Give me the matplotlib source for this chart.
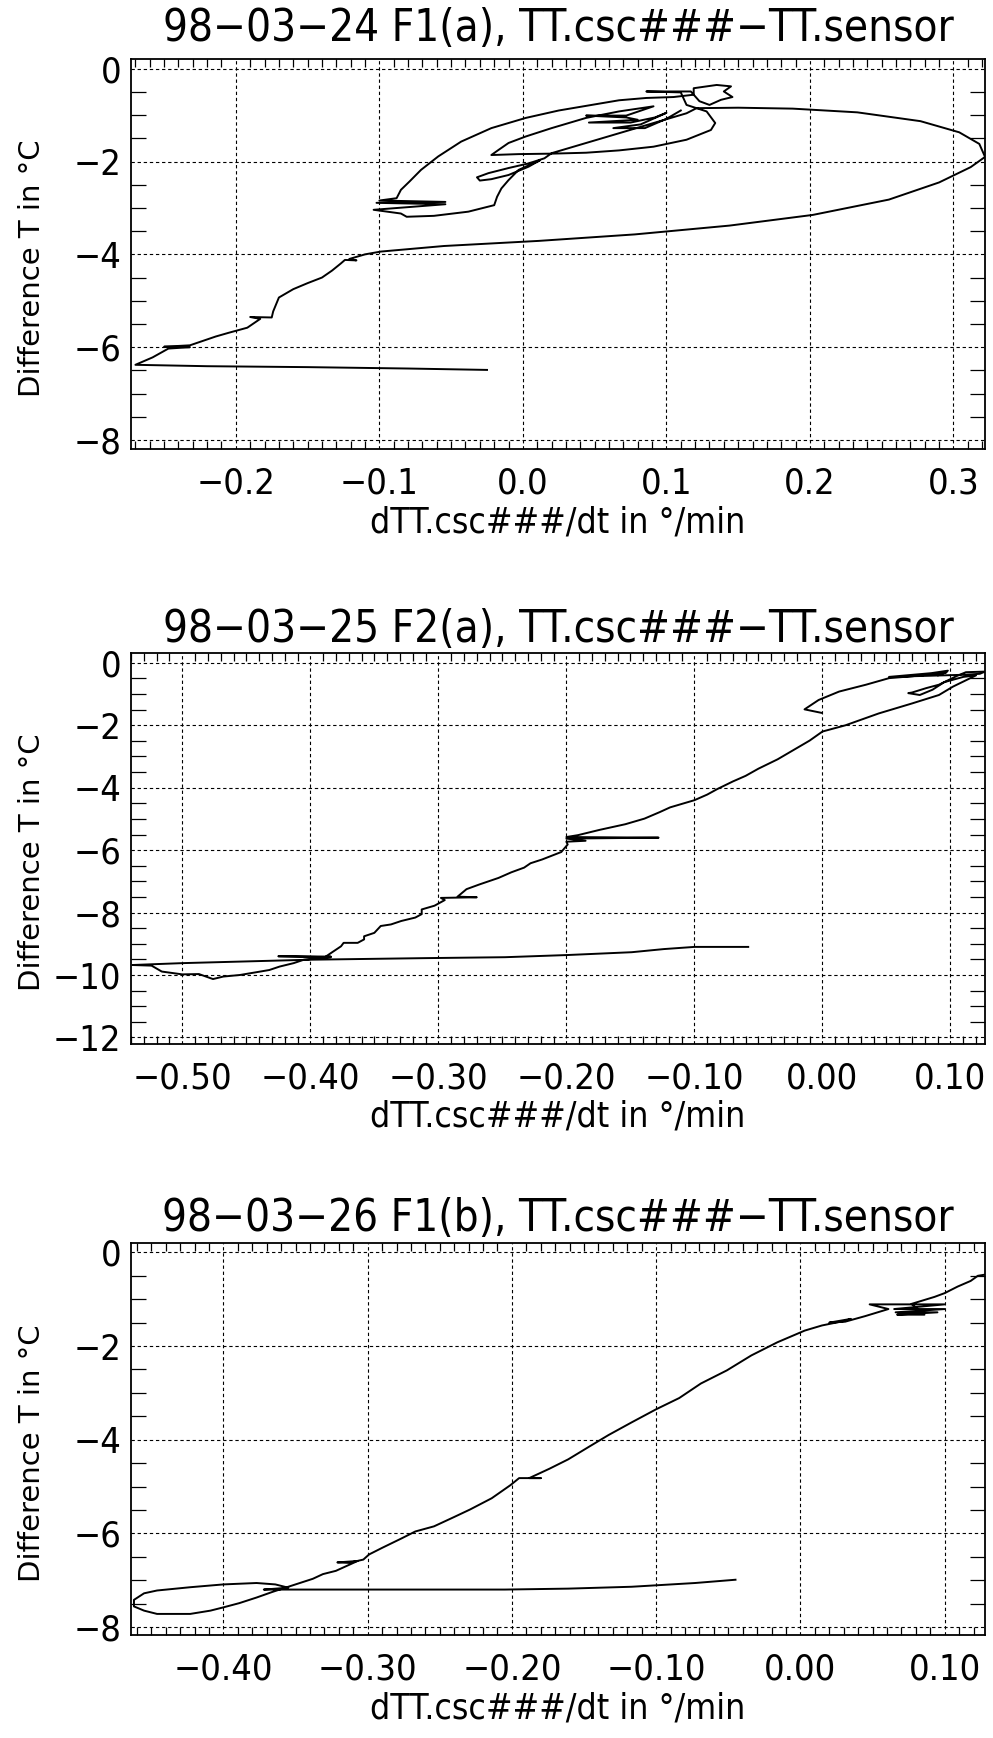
import numpy as np
import matplotlib
matplotlib.use('Agg')
import matplotlib.pyplot as plt
from matplotlib.ticker import MultipleLocator, FuncFormatter

# ---- data (x = dTT/dt in deg/min, y = difference T in C) ----
# 98-03-24 F1(a)
f1a_x = [-0.025, -0.080, -0.150, -0.220, -0.270,
         -0.258, -0.247, -0.232, -0.250, -0.232, -0.214, -0.205, -0.192, -0.183, -0.190, -0.175,
         -0.174, -0.170, -0.160, -0.150, -0.140, -0.133, -0.127, -0.124, -0.116, -0.121, -0.110, -0.099,
         -0.055, 0.011, 0.078, 0.144, 0.202, 0.255, 0.290, 0.312, 0.322, 0.318, 0.304, 0.277,
         0.233, 0.188, 0.150, 0.121,
         0.114, 0.091, 0.067, 0.044, 0.020, 0.015,
         0.004, -0.010, -0.024, -0.032, -0.030, -0.022, -0.010, 0.004, 0.012,
         -0.003, -0.010, -0.015, -0.018, -0.020, -0.038, -0.062, -0.081, -0.085, -0.104,
         -0.054, -0.102, -0.054, -0.100, -0.088,
         -0.085, -0.079, -0.071, -0.059, -0.043, -0.022, 0.002, 0.025, 0.048, 0.067, 0.086, 0.105, 0.119,
         0.119, 0.128, 0.135, 0.145, 0.140, 0.146, 0.138, 0.130, 0.123, 0.117, 0.086, 0.110, 0.114,
         0.128, 0.134, 0.131, 0.114, 0.091, 0.067, 0.044, 0.020, -0.003, -0.022, -0.017, -0.010,
         0.002, 0.020, 0.044, 0.067, 0.091,
         0.072, 0.044, 0.072, 0.080, 0.046, 0.075, 0.092, 0.100, 0.082, 0.063, 0.085, 0.100, 0.110]
f1a_y = [-6.49, -6.46, -6.43, -6.41, -6.38,
         -6.22, -6.03, -6.00, -5.99, -5.96, -5.77, -5.69, -5.58, -5.39, -5.35, -5.36,
         -5.23, -4.93, -4.75, -4.62, -4.50, -4.35, -4.20, -4.12, -4.13, -4.10, -4.00, -3.94,
         -3.82, -3.71, -3.57, -3.38, -3.15, -2.82, -2.45, -2.12, -1.90, -1.62, -1.37, -1.13,
         -0.94, -0.86, -0.84, -0.85,
         -0.96, -1.17, -1.39, -1.60, -1.82, -1.93,
         -2.04, -2.14, -2.25, -2.34, -2.41, -2.38, -2.29, -2.11, -1.97,
         -2.18, -2.40, -2.58, -2.76, -2.94, -3.08, -3.17, -3.19, -3.12, -3.04,
         -2.92, -2.89, -2.87, -2.84, -2.79,
         -2.61, -2.43, -2.18, -1.89, -1.57, -1.28, -1.06, -0.90, -0.78, -0.68, -0.63, -0.61, -0.56,
         -0.42, -0.38, -0.35, -0.38, -0.49, -0.61, -0.67, -0.78, -0.70, -0.49, -0.49, -0.51, -0.78,
         -0.92, -1.17, -1.32, -1.53, -1.68, -1.76, -1.81, -1.83, -1.84, -1.86, -1.75, -1.60,
         -1.46, -1.28, -1.06, -0.92, -0.81,
         -1.01, -1.01, -1.05, -1.10, -1.16, -1.16, -1.05, -0.95, -1.20, -1.28, -1.28, -1.08, -0.90]

# 98-03-25 F2(a)
f2a_x = [-0.001, -0.014, -0.003, 0.013, 0.034, 0.052, 0.070, 0.089, 0.097, 0.090, 0.098, 0.085,
         0.052, 0.095, 0.112, 0.123, 0.127, 0.112, 0.105,
         0.091, 0.081, 0.070, 0.067, 0.076, 0.086, 0.095, 0.110, 0.120,
         0.102, 0.091, 0.070, 0.044, 0.018, 0.000, -0.010, -0.025, -0.035, -0.050, -0.060, -0.070,
         -0.082, -0.090, -0.100, -0.119, -0.127, -0.139, -0.154, -0.174, -0.191,
         -0.200, -0.128, -0.200, -0.185, -0.200, -0.199, -0.204, -0.219, -0.228, -0.233, -0.243,
         -0.253, -0.268, -0.278, -0.285, -0.270, -0.298, -0.295, -0.303, -0.313, -0.313, -0.318,
         -0.329, -0.337, -0.345, -0.350, -0.358, -0.358, -0.363, -0.374, -0.376, -0.384, -0.389,
         -0.384, -0.425, -0.384, -0.405, -0.413, -0.424, -0.432, -0.442, -0.455, -0.468, -0.476,
         -0.487, -0.500, -0.516, -0.524, -0.539,
         -0.500, -0.400, -0.311, -0.248, -0.199, -0.149, -0.124, -0.100, -0.058]
f2a_y = [-1.60, -1.49, -1.19, -0.92, -0.70, -0.49, -0.43, -0.35, -0.30, -0.40, -0.25, -0.33,
         -0.45, -0.40, -0.38, -0.35, -0.28, -0.30, -0.42,
         -0.70, -0.81, -0.95, -0.97, -1.03, -0.86, -0.62, -0.45, -0.40,
         -0.76, -1.03, -1.30, -1.62, -2.00, -2.20, -2.49, -2.85, -3.09, -3.39, -3.62, -3.80,
         -4.04, -4.22, -4.40, -4.63, -4.78, -4.99, -5.17, -5.35, -5.52,
         -5.58, -5.60, -5.63, -5.70, -5.73, -5.82, -6.06, -6.30, -6.42, -6.56, -6.71,
         -6.89, -7.10, -7.25, -7.49, -7.51, -7.53, -7.60, -7.78, -7.90, -8.05, -8.16,
         -8.27, -8.38, -8.43, -8.65, -8.76, -8.86, -8.97, -8.97, -9.08, -9.30, -9.44,
         -9.41, -9.40, -9.43, -9.51, -9.62, -9.73, -9.84, -9.91, -10.00, -10.05, -10.13,
         -9.97, -9.98, -9.89, -9.70, -9.68,
         -9.62, -9.51, -9.46, -9.43, -9.36, -9.27, -9.17, -9.10, -9.10]

# 98-03-26 F1(b)
f1b_x = [-0.045, -0.073, -0.117, -0.161, -0.205, -0.250, -0.293, -0.340, -0.372,
         -0.355, -0.364, -0.377, -0.400, -0.423, -0.446, -0.455, -0.462, -0.462, -0.455, -0.446,
         -0.423, -0.409, -0.400, -0.389, -0.377, -0.366, -0.359, -0.349, -0.338, -0.331, -0.322,
         -0.307, -0.321, -0.313, -0.303, -0.299, -0.290, -0.276, -0.267, -0.254, -0.240, -0.229,
         -0.214, -0.201, -0.195, -0.180, -0.188, -0.174, -0.161, -0.146, -0.133, -0.117, -0.100,
         -0.084, -0.069, -0.051, -0.034, -0.016, 0.003, 0.015, 0.031, 0.035, 0.020, 0.031, 0.045,
         0.061, 0.048, 0.100, 0.065, 0.100, 0.066, 0.095, 0.067, 0.086, 0.077, 0.093, 0.100,
         0.109, 0.118, 0.123, 0.129]
f1b_y = [-6.99, -7.06, -7.14, -7.18, -7.20, -7.20, -7.20, -7.20, -7.20,
         -7.16, -7.09, -7.06, -7.09, -7.15, -7.22, -7.28, -7.42, -7.56, -7.65, -7.72,
         -7.72, -7.65, -7.58, -7.49, -7.37, -7.25, -7.18, -7.08, -6.97, -6.87, -6.80,
         -6.59, -6.62, -6.63, -6.56, -6.45, -6.31, -6.10, -5.96, -5.85, -5.65, -5.49,
         -5.25, -4.97, -4.82, -4.82, -4.82, -4.62, -4.42, -4.14, -3.90, -3.63, -3.35,
         -3.11, -2.80, -2.52, -2.20, -1.92, -1.67, -1.56, -1.46, -1.42, -1.50, -1.48, -1.36,
         -1.21, -1.11, -1.11, -1.21, -1.21, -1.28, -1.28, -1.33, -1.33, -1.10, -0.95, -0.87,
         -0.73, -0.61, -0.50, -0.47]

titles = ['98\u221203\u221224 F1(a), TT.csc###\u2212TT.sensor',
          '98\u221203\u221225 F2(a), TT.csc###\u2212TT.sensor',
          '98\u221203\u221226 F1(b), TT.csc###\u2212TT.sensor']
xlims = [(-0.273, 0.322), (-0.540, 0.127), (-0.464, 0.128)]
ylims = [(-8.2, 0.2), (-12.2, 0.3), (-8.18, 0.2)]
xdigits = [1, 2, 2]
title_pads = [13.5, 8.5, 8.5]


def minus_fmt(nd):
    def f(v, pos):
        s = f'{v:.{nd}f}'
        if s.startswith('-') and float(s) == 0:
            s = s[1:]
        return s.replace('-', '\u2212')
    return FuncFormatter(f)


fig = plt.figure(figsize=(9.93, 17.38), dpi=100)
boxes = [[0.132, 0.7415, 0.860, 0.2243],
         [0.132, 0.3995, 0.860, 0.2245],
         [0.132, 0.0590, 0.860, 0.2258]]

series = [(f1a_x, f1a_y), (f2a_x, f2a_y), (f1b_x, f1b_y)]

for i, (xs, ys) in enumerate(series):
    ax = fig.add_axes(boxes[i])
    ax.plot(xs, ys, color='black', lw=1.4, solid_joinstyle='round')
    ax.set_xlim(*xlims[i])
    ax.set_ylim(*ylims[i])

    ax.xaxis.set_major_locator(MultipleLocator(0.1))
    ax.xaxis.set_minor_locator(MultipleLocator(0.01))
    ax.yaxis.set_major_locator(MultipleLocator(2))
    ax.yaxis.set_minor_locator(MultipleLocator(0.5))
    ax.xaxis.set_major_formatter(minus_fmt(xdigits[i]))
    ax.yaxis.set_major_formatter(minus_fmt(0))

    ax.grid(True, which='major', color='black', linestyle=(0, (3, 2.5)), linewidth=0.8)
    ax.tick_params(which='major', length=0, labelsize=26)
    ax.tick_params(axis='x', which='major', pad=12.5)
    ax.tick_params(axis='y', which='major', pad=7)
    ax.tick_params(which='minor', direction='in', top=True, right=True, color='black', width=0.9)
    ax.tick_params(axis='x', which='minor', length=6)
    ax.tick_params(axis='y', which='minor', length=11)
    for lab in ax.get_xticklabels() + ax.get_yticklabels():
        lab.set_fontstretch('condensed')
    for sp in ax.spines.values():
        sp.set_linewidth(1.3)

    ax.set_title(titles[i], fontsize=31.5, fontstretch='condensed', pad=title_pads[i])
    ax.set_xlabel('dTT.csc###/dt in \u00b0/min', fontsize=25.5, fontstretch='condensed', labelpad=3.5)
    ax.set_ylabel('Difference T in \u00b0C', fontsize=21)
    ax.yaxis.set_label_coords(-0.100, 0.465)

fig.savefig('out.png', dpi=100)
